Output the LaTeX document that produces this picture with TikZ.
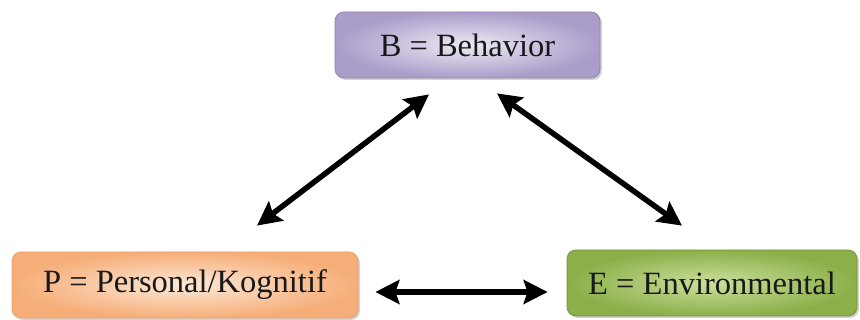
\documentclass[tikz,border=0pt]{standalone}
\usepackage{fontspec}
\setmainfont{Liberation Serif}
\usetikzlibrary{arrows.meta,shadows}
\definecolor{bedge}{HTML}{AA9DCA}
\definecolor{bmid}{HTML}{EEEAF4}
\definecolor{bline}{HTML}{9385B4}
\definecolor{pedge}{HTML}{F6AE78}
\definecolor{pmid}{HTML}{FDE8D8}
\definecolor{pline}{HTML}{E8A06A}
\definecolor{eedge}{HTML}{8CAF4A}
\definecolor{emid}{HTML}{CBE09B}
\definecolor{eline}{HTML}{76923C}
\begin{document}
\begin{tikzpicture}[x=1pt,y=1pt,
  box/.style={rounded corners=9pt, minimum height=66pt, inner sep=0pt,
    font=\fontsize{32.5}{36}\selectfont, text=black!90, line width=0.8pt,
    drop shadow={opacity=0.35, shadow xshift=2pt, shadow yshift=-2pt}},
  arr/.style={line width=5.5pt, {Stealth[length=24pt,width=24pt,inset=4pt]}-{Stealth[length=24pt,width=24pt,inset=4pt]}}]
\useasboundingbox (0,0) rectangle (860,320);
\node[box, minimum width=265pt, draw=bline, inner color=bmid, outer color=bedge] (B) at (467.5,275) {B = Behavior};
\node[box, minimum width=346pt, draw=pline, inner color=pmid, outer color=pedge] (P) at (185,35) {P = Personal/Kognitif};
\node[box, minimum width=290pt, draw=eline, inner color=emid, outer color=eedge] (E) at (712,37) {E = Environmental};
\draw[arr] ([xshift=-38.5pt,yshift=-16pt]B.south) -- ([xshift=72pt,yshift=26pt]P.north);
\draw[arr] ([xshift=29.5pt,yshift=-15pt]B.south) -- ([xshift=-30pt,yshift=24pt]E.north);
\draw[arr] ([xshift=17pt,yshift=-7pt]P.east) -- ([xshift=-19pt,yshift=-9pt]E.west);
\end{tikzpicture}
\end{document}
